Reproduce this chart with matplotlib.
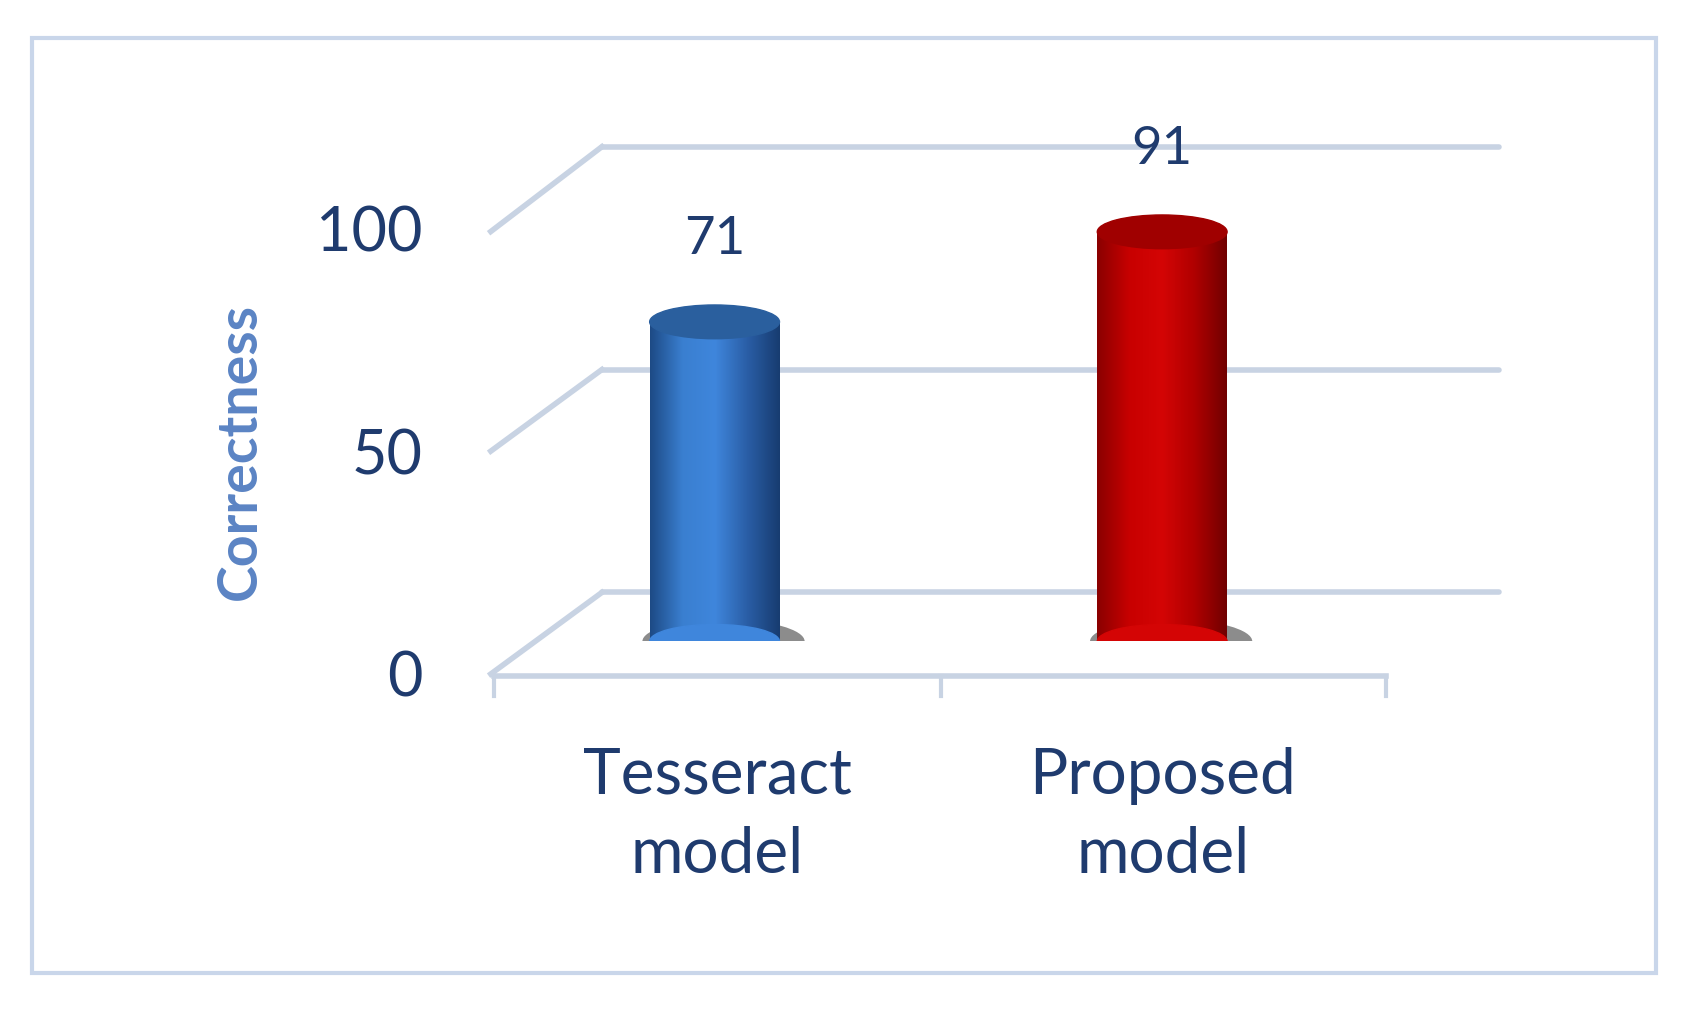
import matplotlib
matplotlib.use("Agg")
import matplotlib.pyplot as plt
import numpy as np
from matplotlib.patches import Rectangle, Ellipse
from matplotlib.colors import LinearSegmentedColormap

categories = ["Tesseract\nmodel", "Proposed\nmodel"]
values = [71, 91]
yticks = [0, 50, 100]

W, H = 1565.0, 930.0
plt.rcParams['font.family'] = ['Lato', 'DejaVu Sans']
fig = plt.figure(figsize=(16.88, 10.11), dpi=100)
navy = "#1f3b6e"

# decoration axes in pixel coords
deco = fig.add_axes([0, 0, 1, 1])
deco.set_xlim(0, W); deco.set_ylim(H, 0); deco.axis("off")
deco.add_patch(Rectangle((30, 35), 1505, 860, fill=False, ec="#c9d6ea", lw=3))
grid_c = "#c8d3e3"
for gy, fy in zip([545, 340, 135], [620, 415, 213]):
    deco.plot([558, 1390], [gy, gy], color=grid_c, lw=4, solid_capstyle="round")
    deco.plot([455, 558], [fy, gy], color=grid_c, lw=4)
deco.plot([458, 1285], [622, 622], color=grid_c, lw=4)
for tx in [458, 872, 1285]:
    deco.plot([tx, tx], [622, 640], color=grid_c, lw=3)
for t, fy in zip(yticks, [625, 420, 215]):
    deco.text(392, fy, str(t), ha="right", va="center", fontsize=44, color=navy)
deco.text(222, 415, "Correctness", rotation=90, ha="center", va="center",
          fontsize=40, color="#5b84c4", fontweight="bold")

# bar axes
x0, x1, yb, yt = 455, 1285, 590, 176
ax = fig.add_axes([x0 / W, 1 - yb / H, (x1 - x0) / W, (yb - yt) / H])
ax.set_xlim(-0.5, 1.5); ax.set_ylim(0, 100); ax.axis("off")
ax.patch.set_alpha(0)

cmaps = [
    LinearSegmentedColormap.from_list("b", ["#1d4a85", "#3a7fd0", "#3f86dc", "#2a5ea6", "#173c70"]),
    LinearSegmentedColormap.from_list("r", ["#8a0000", "#c80000", "#d40505", "#b00000", "#700000"]),
]
tops = ["#2a5f9e", "#a00000"]
bw = 0.29
eh = 7.5
for i, (v, cm) in enumerate(zip(values, cmaps)):
    # shadow
    ax.add_patch(Ellipse((i + 0.02, 0), bw * 1.25, eh * 1.3, color="#000000", alpha=0.45, lw=0, zorder=1))
    bars = ax.bar([i], [v], width=bw, color="none", zorder=2)
    rect = bars[0]
    grad = np.linspace(0, 1, 256).reshape(1, -1)
    im = ax.imshow(grad, cmap=cm, aspect="auto", extent=(i - bw / 2, i + bw / 2, -eh / 2, v), zorder=2)
    im.set_clip_path(rect)
    ax.add_patch(Ellipse((i, 0), bw, eh, color=cm(0.5), zorder=2))
    ax.add_patch(Ellipse((i, v), bw, eh, color=tops[i], zorder=3))
    ax.text(i, v + 13, str(v), ha="center", va="bottom", fontsize=38, color=navy)
    ax.set_ylim(0, 100)

for i, c in enumerate(categories):
    deco.text([665, 1078][i], 750, c, ha="center", va="center", fontsize=46,
              color=navy, linespacing=1.45)

fig.savefig("out.png", dpi=100)
